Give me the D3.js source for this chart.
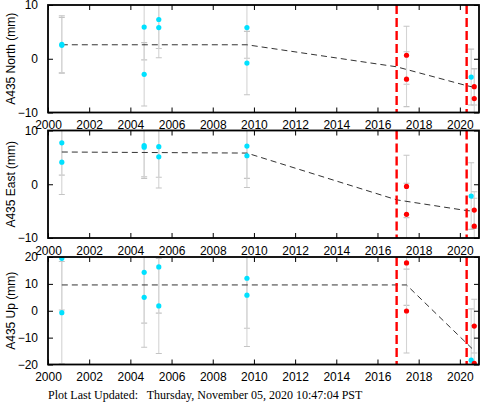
<!DOCTYPE html>
<html>
<head>
<meta charset="utf-8">
<script src="https://cdn.jsdelivr.net/npm/d3@7"></script>
<style>
  body { margin: 0; background: #fff; }
  svg { display: block; font-family: "Liberation Sans", Arial, sans-serif; }
</style>
</head>
<body>
<svg id="chart" width="481" height="404"></svg>
<script>
// observation epochs (decimal year) and source ("c" = cyan campaign, "r" = red)
const obsTime = [2000.67, 2000.67, 2004.67, 2004.67, 2005.38, 2005.38, 2009.66, 2009.66, 2017.41, 2017.41, 2020.55, 2020.70, 2020.70];
const obsKind = ["c", "c", "c", "c", "c", "c", "c", "c", "r", "r", "c", "r", "r"];

const northVal = [2.7, 2.5, 5.9, -2.9, 7.3, 5.8, 5.8, -0.8, 0.65, -3.8, -3.4, -5.2, -7.4];
const northErr = [5.3, 5.2, 6.1, 5.9, 5.4, 5.6, 5.7, 5.9, 5.4, 5.1, 5.2, 3.4, 5.5];
const eastVal = [7.7, 4.1, 7.2, 6.9, 7.0, 5.1, 7.1, 5.3, -0.4, -5.6, -2.2, -4.8, -7.8];
const eastErr = [6.0, 6.0, 5.8, 5.8, 5.7, 5.8, 6.0, 5.9, 5.8, 5.8, 6.2, 3.4, 5.2];
const upVal = [19.5, -0.7, 14.3, 5.0, 16.3, 1.8, 12.1, 5.8, 17.8, -0.1, -18.4, -5.7, -19.6];
const upErr = [19.2, 19.0, 18.9, 18.6, 17.2, 17.7, 18.6, 19.1, 15.8, 15.6, 19.1, 10.0, 14.0];

// piecewise model (dashed black)
const northModelT = [2000.67, 2009.66, 2016.93, 2020.33, 2020.68];
const northModelV = [2.6, 2.6, -1.5, -5.0, -5.3];
const eastModelT = [2000.67, 2009.66, 2016.93, 2020.33, 2020.68];
const eastModelV = [6.0, 5.8, -2.9, -4.9, -5.0];
const upModelT = [2000.67, 2017.41, 2020.68];
const upModelV = [9.6, 9.6, -14.7];

// event dates (red dashed verticals)
const eventTime = [2016.93, 2020.33];

const yearTicks = [2000, 2002, 2004, 2006, 2008, 2010, 2012, 2014, 2016, 2018, 2020];
const nsTicks = [-10, 0, 10];
const nsMinor = [-5, 5];
const upTicks = [-20, -10, 0, 10, 20];
const upMinor = [-15, -5, 5, 15];

const footer = "Plot Last Updated:   Thursday, November 05, 2020 10:47:04 PST";

const panels = [
  { title: "A435 North (mm)", vals: northVal, errs: northErr, mt: northModelT, mv: northModelV, dom: [-10, 10], ticks: nsTicks, minor: nsMinor, top: 5 },
  { title: "A435 East (mm)", vals: eastVal, errs: eastErr, mt: eastModelT, mv: eastModelV, dom: [-10, 10], ticks: nsTicks, minor: nsMinor, top: 130.5 },
  { title: "A435 Up (mm)", vals: upVal, errs: upErr, mt: upModelT, mv: upModelV, dom: [-20, 20], ticks: upTicks, minor: upMinor, top: 257 }
];

const left = 48, right = 479, ph = 107.5;
const svg = d3.select("#chart");

const x = d3.scaleLinear().domain([2000, 2020.93]).range([left, right]);
const minorYears = d3.range(2000, 2021, 0.5);
const colors = { c: "#00e1ff", r: "#ff0000" };

panels.forEach((p, pi) => {
  const y = d3.scaleLinear().domain(p.dom).range([p.top + ph, p.top]);
  const g = svg.append("g");
  const clipId = "clip" + pi;

  svg.append("clipPath").attr("id", clipId)
    .append("rect")
    .attr("x", left).attr("y", p.top)
    .attr("width", right - left).attr("height", ph);

  const plot = g.append("g").attr("clip-path", `url(#${clipId})`);

  // error bars
  const eb = plot.append("g").attr("stroke", "#d4d4d4").attr("stroke-width", 1.1);
  obsTime.forEach((t, i) => {
    const xi = x(t), y0 = y(p.vals[i] - p.errs[i]), y1 = y(p.vals[i] + p.errs[i]);
    eb.append("line").attr("x1", xi).attr("x2", xi).attr("y1", y0).attr("y2", y1);
    eb.append("line").attr("x1", xi - 3).attr("x2", xi + 3).attr("y1", y0).attr("y2", y0).attr("stroke", "#c4c4c4");
    eb.append("line").attr("x1", xi - 3).attr("x2", xi + 3).attr("y1", y1).attr("y2", y1).attr("stroke", "#c4c4c4");
  });

  // model
  const line = d3.line().x(d => x(d[0])).y(d => y(d[1]));
  plot.append("path")
    .datum(p.mt.map((t, i) => [t, p.mv[i]]))
    .attr("d", line)
    .attr("fill", "none")
    .attr("stroke", "#333")
    .attr("stroke-width", 1)
    .attr("stroke-dasharray", "6,4");

  // events
  plot.selectAll("line.ev")
    .data(eventTime)
    .join("line")
    .attr("class", "ev")
    .attr("x1", d => x(d)).attr("x2", d => x(d))
    .attr("y1", p.top).attr("y2", p.top + ph)
    .attr("stroke", "#ff0000")
    .attr("stroke-width", 2.4)
    .attr("stroke-dasharray", "9,4");

  // points
  plot.selectAll("circle")
    .data(obsTime)
    .join("circle")
    .attr("cx", d => x(d))
    .attr("cy", (d, i) => y(p.vals[i]))
    .attr("r", 2.6)
    .attr("fill", (d, i) => colors[obsKind[i]]);

  // axes, ticks inward on all four sides
  const fmt = d3.format("d");
  const bottom = g.append("g").attr("transform", `translate(0,${p.top + ph})`);
  bottom.call(d3.axisBottom(x).tickValues(minorYears).tickSize(-3).tickFormat(""));
  bottom.call(d3.axisBottom(x).tickValues(yearTicks).tickSize(-5).tickPadding(8).tickFormat(fmt));
  const topAx = g.append("g").attr("transform", `translate(0,${p.top})`);
  topAx.call(d3.axisTop(x).tickValues(minorYears).tickSize(-3).tickFormat(""));
  topAx.call(d3.axisTop(x).tickValues(yearTicks).tickSize(-5).tickFormat(""));

  const leftAx = g.append("g").attr("transform", `translate(${left},0)`);
  leftAx.call(d3.axisLeft(y).tickValues(p.minor).tickSize(-3).tickFormat(""));
  leftAx.call(d3.axisLeft(y).tickValues(p.ticks).tickSize(-5).tickPadding(10).tickFormat(fmt));
  const rightAx = g.append("g").attr("transform", `translate(${right},0)`);
  rightAx.call(d3.axisRight(y).tickValues(p.minor).tickSize(-3).tickFormat(""));
  rightAx.call(d3.axisRight(y).tickValues(p.ticks).tickSize(-5).tickFormat(""));

  g.selectAll(".domain").remove();
  g.selectAll(".tick line").attr("stroke", "#000").attr("stroke-width", 1);
  g.selectAll(".tick text").attr("fill", "#000").style("font-size", "12px")
    .style("font-family", "'Liberation Sans', Arial, sans-serif");

  g.append("rect")
    .attr("x", left).attr("y", p.top)
    .attr("width", right - left).attr("height", ph)
    .attr("fill", "none")
    .attr("stroke", "#000")
    .attr("stroke-width", 1.8);

  g.append("text")
    .attr("transform", `translate(15,${p.top + ph / 2}) rotate(-90)`)
    .attr("text-anchor", "middle")
    .style("font-size", "12px")
    .text(p.title);
});

svg.append("text")
  .attr("x", 48)
  .attr("y", 399)
  .attr("xml:space", "preserve")
  .style("white-space", "pre")
  .style("font-family", "'Liberation Serif', 'Times New Roman', serif")
  .style("font-size", "12px")
  .text(footer);
</script>
</body>
</html>
